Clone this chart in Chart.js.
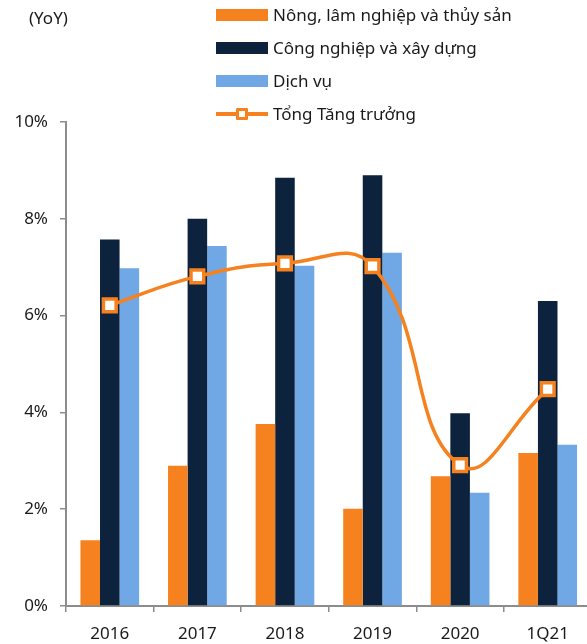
<!DOCTYPE html>
<html>
<head>
<meta charset="utf-8">
<script src="https://cdn.jsdelivr.net/npm/chart.js@4.4.1/dist/chart.umd.min.js"></script>
<style>
  html, body { margin: 0; padding: 0; background: #fff; overflow: hidden; }
  #frame { position: relative; width: 587px; height: 644px; overflow: hidden; }
  #wrap { position: absolute; left: 0; top: 0; width: 604px; height: 644px; }
  #unit { position: absolute; left: 29px; top: 6px; font: 17px "Noto Sans", sans-serif; color: #1a1a1a; }
  #legend { position: absolute; left: 216px; top: 0; font: 17px "Noto Sans", sans-serif; color: #1a1a1a; }
  .item { position: absolute; left: 0; height: 22px; white-space: nowrap; }
  .item span.txt { position: absolute; left: 57px; top: 50%; transform: translateY(-52%); }
  .sw { position: absolute; left: 0; top: 5px; width: 52px; height: 12px; }
  .ln { position: absolute; left: 0; top: 9.5px; width: 52px; height: 3.5px; }
  .mk { position: absolute; left: 20px; top: 5px; width: 6px; height: 6px; border: 3px solid; background: #fff; border-radius: 1px; }
</style>
</head>
<body>
<div id="frame">
  <div id="wrap"><canvas id="c"></canvas></div>
  <div id="unit">(YoY)</div>
  <div id="legend"></div>
</div>
<script>
// GDP growth by sector, year-on-year (%)
const categories = ['2016', '2017', '2018', '2019', '2020', '1Q21'];
const agriculture = [1.36, 2.90, 3.76, 2.01, 2.68, 3.16];
const industry = [7.57, 8.00, 8.85, 8.90, 3.98, 6.30];
const services = [6.98, 7.44, 7.03, 7.30, 2.34, 3.33];
const totalGrowth = [6.21, 6.81, 7.08, 7.02, 2.91, 4.48];
const yTicks = [0, 2, 4, 6, 8, 10];

const seriesNames = ['Nông, lâm nghiệp và thủy sản', 'Công nghiệp và xây dựng', 'Dịch vụ', 'Tổng Tăng trưởng'];
const colors = { orange: '#F5821F', navy: '#0C223D', blue: '#6FA8E4', axis: '#8c8c8c', text: '#1a1a1a' };
const FONT = '"Noto Sans", sans-serif';

const barCommon = { type: 'bar', categoryPercentage: 0.67, barPercentage: 1.0, borderWidth: 0, order: 1 };

const chart = new Chart(document.getElementById('c'), {
  data: {
    labels: categories,
    datasets: [
      Object.assign({ label: seriesNames[0], data: agriculture, backgroundColor: colors.orange }, barCommon),
      Object.assign({ label: seriesNames[1], data: industry, backgroundColor: colors.navy }, barCommon),
      Object.assign({ label: seriesNames[2], data: services, backgroundColor: colors.blue }, barCommon),
      {
        type: 'line', label: seriesNames[3], data: totalGrowth, order: 0,
        borderColor: colors.orange, borderWidth: 3.5, tension: 0.45,
        pointStyle: 'rect', pointRadius: 9, pointBorderWidth: 3.5,
        pointBackgroundColor: '#fff', pointBorderColor: colors.orange
      }
    ]
  },
  options: {
    responsive: true,
    maintainAspectRatio: false,
    animation: false,
    layout: { padding: { top: 122, left: 0, right: 1, bottom: 0 } },
    plugins: { legend: { display: false }, tooltip: { enabled: false } },
    scales: {
      x: {
        offset: true,
        grid: { offset: true, drawOnChartArea: false, drawTicks: true, tickLength: 6, color: colors.axis, lineWidth: 1.5 },
        border: { display: true, color: colors.axis, width: 2 },
        ticks: { font: { family: FONT, size: 17 }, color: colors.text, padding: 12, maxRotation: 0 },
        afterFit: s => { s.height = 38; }
      },
      y: {
        min: 0, max: 10,
        afterBuildTicks: s => { s.ticks = yTicks.map(v => ({ value: v })); },
        grid: { drawOnChartArea: false, drawTicks: true, tickLength: 6, color: colors.axis, lineWidth: 1.5 },
        border: { display: true, color: colors.axis, width: 2 },
        ticks: { font: { family: FONT, size: 17 }, color: colors.text, padding: 12, callback: v => v + '%' },
        afterFit: s => { s.width = 66; }
      }
    }
  }
});

// Legend: one row per dataset, swatch on the left and label on the right
const legend = document.getElementById('legend');
const rowCenters = [15, 47.5, 80.5, 113.7];
chart.data.datasets.forEach((ds, i) => {
  const row = document.createElement('div');
  row.className = 'item';
  row.style.top = (rowCenters[i] - 11) + 'px';
  if (ds.type === 'line') {
    const ln = document.createElement('div');
    ln.className = 'ln';
    ln.style.background = ds.borderColor;
    const mk = document.createElement('div');
    mk.className = 'mk';
    mk.style.borderColor = ds.borderColor;
    row.appendChild(ln);
    row.appendChild(mk);
  } else {
    const sw = document.createElement('div');
    sw.className = 'sw';
    sw.style.background = ds.backgroundColor;
    row.appendChild(sw);
  }
  const t = document.createElement('span');
  t.className = 'txt';
  t.textContent = ds.label;
  row.appendChild(t);
  legend.appendChild(row);
});
</script>
</body>
</html>
